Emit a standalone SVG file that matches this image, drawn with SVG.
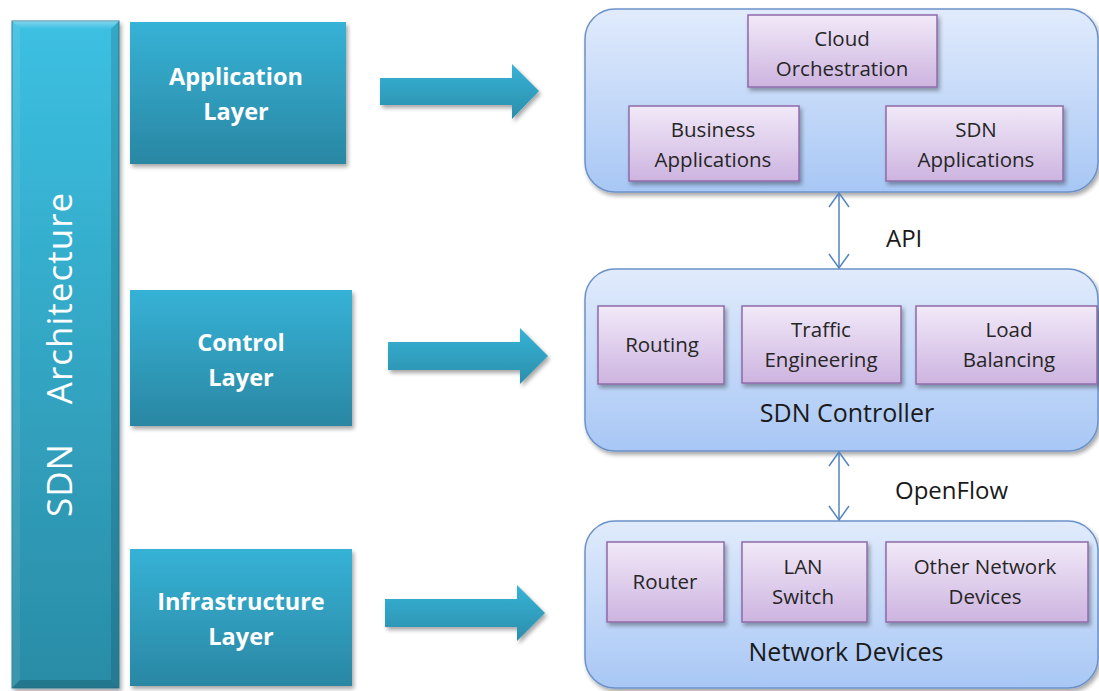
<svg xmlns="http://www.w3.org/2000/svg" width="1099" height="691" viewBox="0 0 1099 691">
  <style>
    .bar { fill: url(#barGrad); stroke: #2a7f98; stroke-width: 1; }
    .layer { fill: url(#layerGrad); filter: url(#shadow); }
    .layerText { font-family: "Open Sans", "Lato", sans-serif; font-weight: bold; font-size: 23.5px; fill: #ffffff; text-anchor: middle; }
    .barText { font-family: "Open Sans", "Lato", sans-serif; font-size: 35px; letter-spacing: 1px; fill: #ffffff; text-anchor: middle; }
    .bigArrow { fill: url(#arrowGrad); filter: url(#shadow); }
    .panel { fill: url(#panelGrad); stroke: #6b92c9; stroke-width: 1.5; filter: url(#shadow); }
    .item { fill: url(#itemGrad); stroke: #8f6ba8; stroke-width: 1.5; filter: url(#shadow); }
    .itemText { font-family: "Open Sans", "Lato", sans-serif; font-size: 20.5px; fill: #262626; text-anchor: middle; }
    .panelText { font-family: "Open Sans", "Lato", sans-serif; font-size: 25px; fill: #1a1a1a; text-anchor: middle; }
    .link { stroke: #5585c0; stroke-width: 1.5; fill: none; }
    .linkText { font-family: "Open Sans", "Lato", sans-serif; font-size: 24px; fill: #1a1a1a; }
  </style>
  <defs>
    <linearGradient id="barGrad" x1="0" y1="0" x2="0" y2="1">
      <stop offset="0" stop-color="#3cc0e2"/>
      <stop offset="1" stop-color="#2a8ca6"/>
    </linearGradient>
    <linearGradient id="layerGrad" x1="0" y1="0" x2="0" y2="1">
      <stop offset="0" stop-color="#36b2d6"/>
      <stop offset="1" stop-color="#2a87a3"/>
    </linearGradient>
    <linearGradient id="arrowGrad" x1="0" y1="0" x2="0" y2="1">
      <stop offset="0" stop-color="#37b3d6"/>
      <stop offset="1" stop-color="#2b8eab"/>
    </linearGradient>
    <linearGradient id="panelGrad" x1="0" y1="0" x2="0" y2="1">
      <stop offset="0" stop-color="#e1ebfc"/>
      <stop offset="1" stop-color="#a8c7f5"/>
    </linearGradient>
    <linearGradient id="itemGrad" x1="0" y1="0" x2="0" y2="1">
      <stop offset="0" stop-color="#f1e9f8"/>
      <stop offset="1" stop-color="#cdb4e0"/>
    </linearGradient>
    <linearGradient id="bevelTop" x1="0" y1="0" x2="0" y2="1">
      <stop offset="0" stop-color="#ffffff" stop-opacity="0.35"/>
      <stop offset="1" stop-color="#ffffff" stop-opacity="0"/>
    </linearGradient>
    <filter id="shadow" x="-10%" y="-10%" width="125%" height="130%">
      <feGaussianBlur in="SourceAlpha" stdDeviation="2"/>
      <feOffset dx="2" dy="3" result="b"/>
      <feComponentTransfer><feFuncA type="linear" slope="0.35"/></feComponentTransfer>
      <feMerge><feMergeNode/><feMergeNode in="SourceGraphic"/></feMerge>
    </filter>
    <!-- open V arrowhead, apex at the line end -->
    <marker id="openHead" viewBox="0 0 16 22" refX="15" refY="11" markerWidth="16" markerHeight="22" markerUnits="userSpaceOnUse" orient="auto-start-reverse">
      <path d="M1,1 L15,11 L1,21" fill="none" stroke="#5585c0" stroke-width="1.5"/>
    </marker>
  </defs>

  <!-- vertical title bar -->
  <g id="sdn-architecture">
    <rect class="bar" x="12" y="21" width="107" height="667" filter="url(#shadow)"/>
    <path d="M12,21 L119,21 L111,29 L20,29 Z" fill="url(#bevelTop)"/>
    <path d="M111,29 L119,21 L119,688 L111,680 Z" fill="#000000" fill-opacity="0.12"/>
    <path d="M20,680 L111,680 L119,688 L12,688 Z" fill="#000000" fill-opacity="0.15"/>
    <path d="M12,21 L20,29 L20,680 L12,688 Z" fill="#ffffff" fill-opacity="0.08"/>
    <text class="barText" transform="translate(72,480) rotate(-90)">SDN</text>
    <text class="barText" transform="translate(72,298) rotate(-90)">Architecture</text>
  </g>

  <!-- layer labels -->
  <g id="application-layer">
    <rect class="layer" x="130" y="22" width="216" height="142"/>
    <text class="layerText" x="236" y="85">Application</text>
    <text class="layerText" x="236" y="120">Layer</text>
  </g>
  <g id="control-layer">
    <rect class="layer" x="130" y="290" width="222" height="136"/>
    <text class="layerText" x="241" y="351">Control</text>
    <text class="layerText" x="241" y="386">Layer</text>
  </g>
  <g id="infrastructure-layer">
    <rect class="layer" x="130" y="549" width="222" height="137"/>
    <text class="layerText" x="241" y="610">Infrastructure</text>
    <text class="layerText" x="241" y="645">Layer</text>
  </g>

  <!-- application plane -->
  <g id="application-plane">
    <rect class="panel" x="585" y="9" width="513" height="183" rx="30" ry="30"/>
  </g>
  <g id="cloud-orchestration">
    <rect class="item" x="748" y="15" width="189" height="72"/>
    <text class="itemText" x="842" y="46">Cloud</text>
    <text class="itemText" x="842" y="76">Orchestration</text>
  </g>
  <g id="business-applications">
    <rect class="item" x="629" y="106" width="170" height="75"/>
    <text class="itemText" x="713" y="137">Business</text>
    <text class="itemText" x="713" y="167">Applications</text>
  </g>
  <g id="sdn-applications">
    <rect class="item" x="886" y="106" width="177" height="75"/>
    <text class="itemText" x="976" y="137">SDN</text>
    <text class="itemText" x="976" y="167">Applications</text>
  </g>

  <!-- control plane -->
  <g id="sdn-controller">
    <rect class="panel" x="585" y="269" width="513" height="182" rx="30" ry="30"/>
    <text class="panelText" x="847" y="422">SDN Controller</text>
  </g>
  <g id="routing">
    <rect class="item" x="598" y="306" width="126" height="78"/>
    <text class="itemText" x="662" y="352">Routing</text>
  </g>
  <g id="traffic-engineering">
    <rect class="item" x="742" y="306" width="159" height="77"/>
    <text class="itemText" x="821" y="337">Traffic</text>
    <text class="itemText" x="821" y="367">Engineering</text>
  </g>
  <g id="load-balancing">
    <rect class="item" x="916" y="306" width="181" height="78"/>
    <text class="itemText" x="1009" y="337">Load</text>
    <text class="itemText" x="1009" y="367">Balancing</text>
  </g>

  <!-- infrastructure plane -->
  <g id="network-devices">
    <rect class="panel" x="585" y="521" width="513" height="167" rx="30" ry="30"/>
    <text class="panelText" x="846" y="661">Network Devices</text>
  </g>
  <g id="router">
    <rect class="item" x="607" y="542" width="117" height="80"/>
    <text class="itemText" x="665" y="589">Router</text>
  </g>
  <g id="lan-switch">
    <rect class="item" x="742" y="542" width="125" height="80"/>
    <text class="itemText" x="803" y="574">LAN</text>
    <text class="itemText" x="803" y="604">Switch</text>
  </g>
  <g id="other-network-devices">
    <rect class="item" x="886" y="542" width="202" height="80"/>
    <text class="itemText" x="985" y="574">Other Network</text>
    <text class="itemText" x="985" y="604">Devices</text>
  </g>

  <!-- connectors -->
  <g id="connectors">
    <path class="bigArrow" d="M380,78 L512,78 L512,64 L539,91 L512,119 L512,105 L380,105 Z"/>
    <path class="bigArrow" d="M388,342 L520,342 L520,328 L548,356 L520,384 L520,370 L388,370 Z"/>
    <path class="bigArrow" d="M385,599 L517,599 L517,585 L545,613 L517,641 L517,627 L385,627 Z"/>
    <line class="link" x1="839" y1="193" x2="839" y2="268" marker-start="url(#openHead)" marker-end="url(#openHead)"/>
    <text class="linkText" x="886" y="247">API</text>
    <line class="link" x1="839" y1="452" x2="839" y2="520" marker-start="url(#openHead)" marker-end="url(#openHead)"/>
    <text class="linkText" x="895" y="499">OpenFlow</text>
  </g>
</svg>
